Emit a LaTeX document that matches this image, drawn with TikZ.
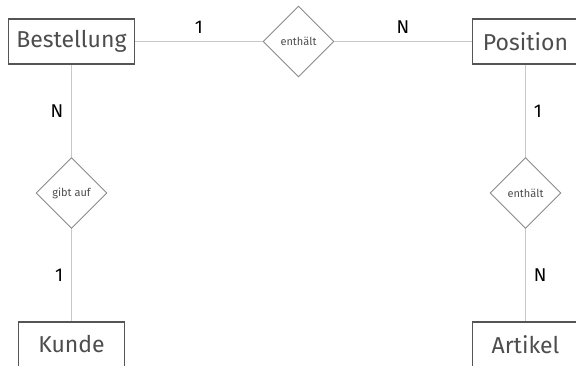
\documentclass[tikz,border=0pt]{standalone}
\usepackage{fontspec}
\setmainfont{Fira Sans}
\usetikzlibrary{positioning,shapes.geometric}

\definecolor{boxgray}{HTML}{555555}
\definecolor{textgray}{HTML}{4D4D4D}
\definecolor{diagray}{HTML}{8A8A8A}
\definecolor{linkgray}{HTML}{C8C8C8}

\tikzset{
  entity/.style={draw=boxgray, line width=1.8pt, rectangle, minimum width=106pt,
    minimum height=45pt, inner xsep=8pt, text=textgray, font=\fontsize{23}{26}\selectfont},
  relation/.style={draw=diagray, line width=0.9pt, diamond, aspect=1, minimum size=71pt,
    inner sep=0pt, text=textgray, font=\fontsize{11}{13}\selectfont},
  link/.style={draw=linkgray, line width=1.5pt},
  card/.style={inner sep=7.5pt, text=black, font=\fontsize{18.5}{21}\selectfont},
}

\begin{document}
\begin{tikzpicture}[x=1pt, y=-1pt, on grid]
    \useasboundingbox (0,0) rectangle (576,366);
    \clip (0,0) rectangle (576,366);
    \node[entity]                        (bestellung) at (71.5,41.5) {Bestellung}; %
    \node[relation, right=227pt of bestellung] (enthaelt)   {enthält};
    \node[entity,   right=227pt of enthaelt]   (position)   {Position};
    \node[relation, below=151.5pt of bestellung] (gibtauf)  {gibt auf};
    \node[entity,   below=151.5pt of gibtauf]  (kunde)      {Kunde};
    \node[relation, below=151.5pt of position] (enthaelt2)  {enthält};
    \node[entity,   below=151.5pt of enthaelt2] (artikel)   {Artikel};
    \draw[link] (bestellung) -- node[card, above] {1} (enthaelt);
    \draw[link] (enthaelt)   -- node[card, above] {N} (position);
    \draw[link] (bestellung) -- node[card, left]  {N} (gibtauf);
    \draw[link] (gibtauf)    -- node[card, left]  {1} (kunde);
    \draw[link] (position)   -- node[card, right] {1} (enthaelt2);
    \draw[link] (enthaelt2)  -- node[card, right] {N} (artikel);
\end{tikzpicture}
\end{document}
